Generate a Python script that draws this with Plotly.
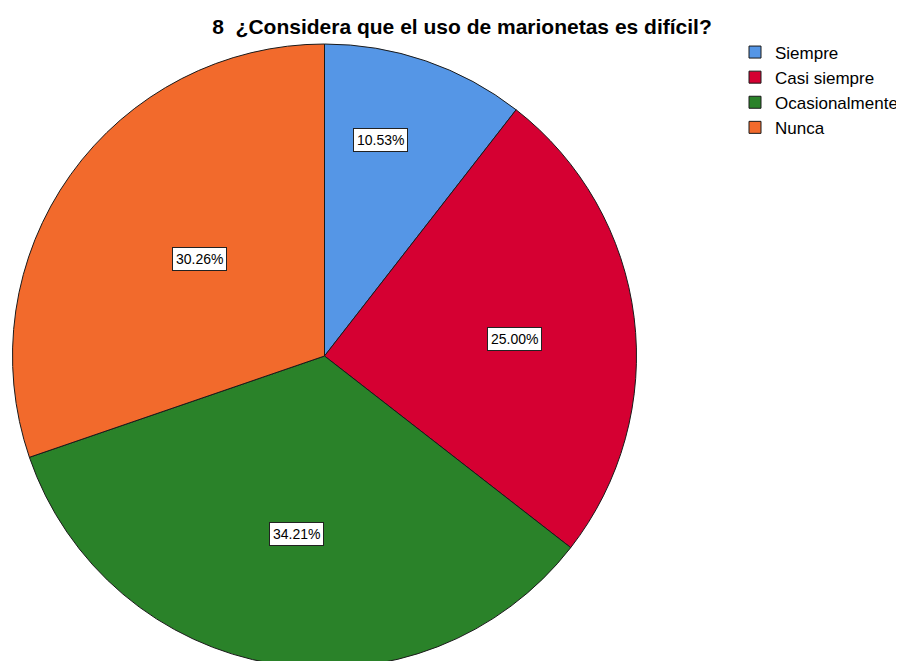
import math
import plotly.graph_objects as go

# ---- data ----
categories = ["Siempre", "Casi siempre", "Ocasionalmente", "Nunca"]
counts = [8, 19, 26, 23]
title_text = "8  ¿Considera que el uso de marionetas es difícil?"

# ---- style ----
colors = ["#5596E6", "#D50032", "#2A8229", "#F26A2C"]
label_radius = [0.716, 0.613, 0.578, 0.506]
label_angle_shift = [-4.3, 2.0, -0.4, 2.4]  # degrees

W, H = 904, 661
cx, cy, R = 316.5, 348.0, 312.0

fig = go.Figure()
fig.add_trace(go.Pie(
    labels=categories,
    values=counts,
    sort=False,
    direction="clockwise",
    rotation=0,
    marker=dict(colors=colors, line=dict(color="#1a1a1a", width=1)),
    textinfo="none",
    hoverinfo="label+percent",
    domain=dict(x=[(cx - R) / W, (cx + R) / W], y=[(H - cy - R) / H, (H - cy + R) / H]),
))

total = sum(counts)
cum = 0
annotations = []
for i, v in enumerate(counts):
    mid = (cum + v / 2) / total * 2 * math.pi + math.radians(label_angle_shift[i])
    cum += v
    r = label_radius[i] * R
    px = cx + r * math.sin(mid)
    py = cy - r * math.cos(mid)
    annotations.append(dict(
        x=px / W, y=1 - py / H, xref="paper", yref="paper",
        text=f"{v / total * 100:.2f}%", showarrow=False,
        font=dict(family="Liberation Sans, Arial", size=14, color="black"),
        bgcolor="white", bordercolor="#222", borderwidth=1, borderpad=3,
        xanchor="center", yanchor="middle",
    ))

fig.update_layout(
    width=W, height=H,
    margin=dict(l=0, r=0, t=0, b=0),
    paper_bgcolor="white",
    title=dict(text=f"<b>{title_text}</b>", x=454 / W, xanchor="center",
               y=1 - 19 / H, yanchor="middle",
               font=dict(family="Liberation Sans, Arial", size=21, color="black")),
    legend=dict(x=727 / W, y=1 - 26.5 / H, xanchor="left", yanchor="top",
                font=dict(family="Liberation Sans, Arial", size=17, color="black"),
                tracegroupgap=0, itemwidth=30, bgcolor="rgba(0,0,0,0)"),
    annotations=annotations,
    showlegend=True,
)

fig.write_html("out.html")
